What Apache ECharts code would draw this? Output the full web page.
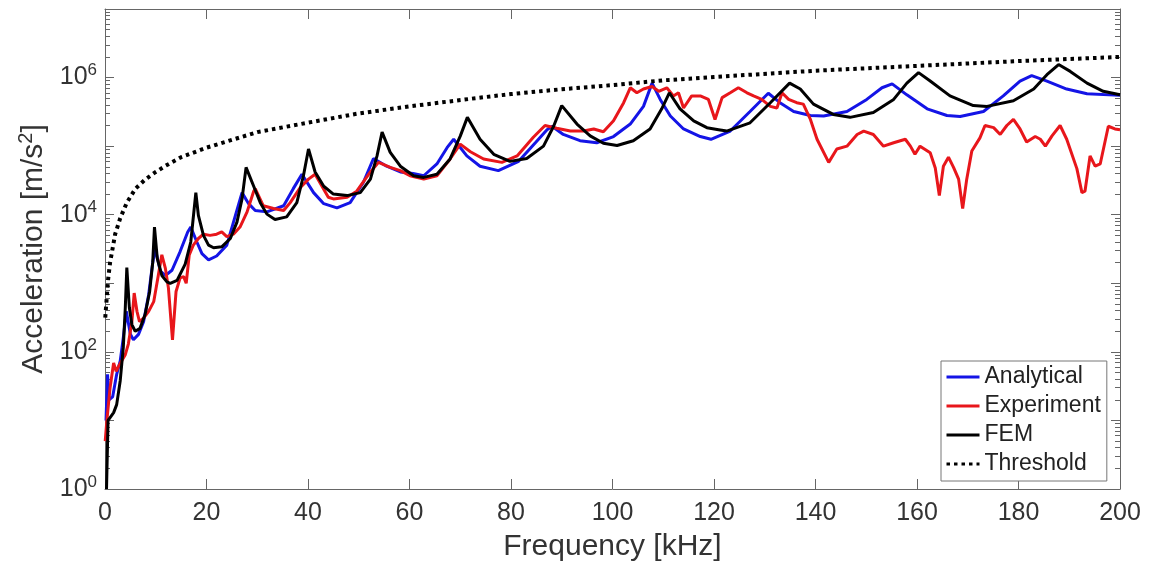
<!DOCTYPE html>
<html>
<head>
<meta charset="utf-8">
<title>Acceleration vs Frequency</title>
<script src="https://cdn.jsdelivr.net/npm/echarts@6/dist/echarts.min.js"></script>
<style>
  html, body { margin: 0; padding: 0; background: #fff; }
  #main { width: 1150px; height: 567px; }
</style>
</head>
<body>
<div id="main"></div>
<script>
// [frequency kHz, acceleration m/s^2]
const analytical = [
  [0.2, 10], [0.5, 47], [0.8, 20], [1.5, 22], [2.3, 47], [3.0, 74], [3.6, 160], [4.2, 390],
  [5.0, 180], [5.6, 150], [6.6, 180], [7.6, 275], [8.6, 680], [9.4, 2000], [9.9, 3200],
  [10.9, 1500], [11.9, 1300], [13.2, 1550], [14.8, 2900], [16.3, 5600], [16.9, 6600],
  [18.1, 4000], [19.1, 2700], [20.4, 2200], [22.0, 2500], [24.0, 3600], [25.7, 9800], [27.0, 21000],
  [28.3, 14500], [29.6, 11500], [31.9, 11000], [35.2, 13500], [37.1, 24000], [38.8, 39000],
  [41.1, 21000], [43.1, 14500], [45.7, 12600], [48.3, 15000], [50.9, 29500], [52.9, 66000],
  [55.5, 51000], [58.2, 42000], [60.7, 40000], [62.8, 37000], [65.4, 55000], [67.4, 95000], [68.7, 126000],
  [71.3, 72000], [73.9, 51000], [77.5, 44000], [81.5, 60000], [84.8, 112000], [87.1, 174000], [88.1, 195000],
  [90.3, 148000], [93.6, 120000], [96.9, 112000], [100.2, 138000], [103.5, 210000], [106.1, 380000], [107.8, 830000],
  [109.4, 480000], [111.4, 275000], [114.0, 178000], [117.3, 138000], [119.4, 126000], [123.2, 166000],
  [127.1, 320000], [130.7, 590000], [133.0, 430000], [135.7, 320000], [139.0, 280000], [141.6, 275000],
  [146.2, 320000], [150.1, 480000], [153.1, 710000], [155.1, 810000], [158.0, 560000], [162.0, 350000],
  [165.9, 280000], [168.5, 270000], [173.1, 320000], [177.0, 540000], [180.3, 890000], [182.6, 1070000],
  [185.6, 890000], [189.5, 680000], [193.5, 580000], [200, 550000]
];

const experiment = [
  [0.04, 5], [0.37, 10], [1.0, 30], [1.7, 69], [2.2, 52], [2.7, 62], [3.3, 74], [4.0, 91], [4.6, 130],
  [5.3, 275], [5.75, 720], [6.3, 390], [6.8, 275], [7.6, 310], [8.6, 390], [9.6, 540], [10.5, 1300],
  [11.2, 2600], [11.9, 1650], [12.5, 850], [13.3, 150], [14.0, 760], [14.8, 1200], [15.5, 1250],
  [16.0, 1000], [16.6, 2600], [17.4, 3600], [18.4, 4500], [19.4, 5200], [20.7, 5000], [22.0, 5200],
  [23.0, 5600], [24.0, 4800], [25.3, 5200], [26.6, 6600], [28.0, 11000], [29.3, 22000], [29.6, 24000],
  [31.2, 13500], [33.2, 12300], [35.2, 11500], [36.5, 15000], [38.5, 25000], [40.1, 33000], [41.4, 39000],
  [44.0, 18000], [45.0, 17000], [47.7, 18000], [49.6, 22000], [52.3, 42000], [53.9, 58000], [56.2, 49000],
  [58.2, 44000], [60.1, 37000], [62.8, 33000], [65.4, 37000], [68.0, 65000], [70.0, 107000], [72.0, 83000],
  [74.6, 65000], [78.2, 58000], [81.2, 72000], [84.4, 135000], [86.7, 200000], [89.0, 182000], [91.7, 166000],
  [94.3, 166000], [96.3, 178000], [98.2, 162000], [100.2, 234000], [102.2, 430000], [103.5, 710000],
  [104.8, 600000], [106.1, 680000], [107.8, 740000], [109.1, 630000], [110.7, 710000], [112.0, 540000],
  [113.0, 600000], [114.0, 360000], [115.6, 540000], [117.3, 540000], [118.9, 480000], [120.2, 245000],
  [121.6, 510000], [123.2, 600000], [124.8, 710000], [126.5, 600000], [127.8, 540000], [129.4, 480000],
  [131.1, 380000], [132.4, 360000], [133.4, 600000], [134.7, 480000], [136.3, 430000], [137.6, 410000],
  [139.0, 245000], [140.3, 126000], [142.6, 58000], [144.2, 91000], [146.2, 100000], [148.2, 148000],
  [149.5, 166000], [151.4, 148000], [153.4, 100000], [155.4, 112000], [157.7, 126000], [158.7, 100000],
  [159.6, 76000], [160.6, 100000], [162.6, 80000], [163.6, 48000], [164.4, 19000], [165.2, 51000],
  [166.2, 69000], [167.2, 49000], [168.2, 33000], [169.0, 12300], [169.8, 33000], [170.8, 85000],
  [172.4, 132000], [173.4, 200000], [175.1, 186000], [176.4, 148000], [177.7, 200000], [179.0, 245000],
  [180.3, 178000], [181.6, 115000], [183.3, 138000], [184.3, 126000], [185.3, 100000], [186.6, 141000],
  [188.2, 200000], [189.5, 126000], [191.5, 47000], [192.5, 21000], [193.1, 22000], [194.1, 72000],
  [195.1, 51000], [196.1, 55000], [197.7, 195000], [199.0, 178000], [200, 174000]
];

const fem = [
  [0.3, 1], [0.6, 10], [1.0, 11], [1.7, 13], [2.3, 17], [3.0, 38], [3.6, 115], [4.0, 440], [4.3, 1700],
  [4.8, 440], [5.3, 250], [5.95, 200], [6.9, 220], [7.9, 350], [8.8, 760], [9.4, 2000], [9.75, 6600],
  [10.3, 2300], [11.2, 1300], [12.2, 1050], [12.85, 1000], [14.2, 1100], [15.8, 1900], [16.9, 4000], [17.9, 21000],
  [18.4, 9800], [19.4, 5000], [20.4, 3600], [21.4, 3300], [23.0, 3400], [24.7, 4500], [26.0, 7800], [27.0, 17000], [27.8, 49000],
  [29.3, 26000], [30.6, 15000], [31.9, 10200], [33.5, 8500], [35.8, 9300], [37.8, 15000], [39.1, 37000], [40.1, 91000],
  [41.4, 42000], [43.1, 26000], [45.0, 20000], [47.7, 19000], [50.3, 21000], [52.3, 33000], [53.6, 72000], [54.6, 160000],
  [56.2, 81000], [58.2, 51000], [60.8, 37000], [62.8, 35000], [65.4, 39000], [68.0, 65000], [70.0, 140000], [71.4, 263000],
  [73.9, 126000], [76.6, 76000], [79.8, 60000], [83.1, 66000], [86.4, 100000], [88.4, 195000], [90.0, 390000],
  [93.0, 210000], [95.6, 141000], [98.2, 110000], [100.9, 102000], [104.1, 120000], [107.4, 178000], [109.7, 350000], [111.2, 600000],
  [113.3, 350000], [116.0, 234000], [118.6, 186000], [120.9, 174000], [122.5, 166000], [127.1, 219000], [131.1, 430000], [134.9, 830000],
  [137.0, 680000], [139.6, 410000], [143.5, 290000], [146.8, 263000], [151.4, 310000], [155.4, 480000], [158.0, 830000], [160.3, 1180000],
  [162.6, 890000], [166.5, 540000], [171.1, 390000], [173.8, 380000], [179.0, 460000], [183.0, 680000], [185.6, 1100000], [187.9, 1550000],
  [190.2, 1230000], [193.5, 830000], [196.7, 630000], [200, 560000]
];

const threshold = [
  [0.05, 316], [0.3, 560], [0.6, 1120], [1, 2000], [2, 5200], [3, 8900], [4.3, 15000], [6, 24000],
  [8, 33000], [10, 42000], [12, 52000], [15, 69000], [20, 95000], [30, 160000], [40, 220000],
  [50, 300000], [60, 380000], [72, 490000], [80, 575000], [90, 676000], [100, 776000], [110, 912000],
  [120, 1020000], [140, 1260000], [160, 1480000], [180, 1740000], [200, 2000000]
];

const xTicks = [0, 20, 40, 60, 80, 100, 120, 140, 160, 180, 200];
const yMajor = [1, 1e1, 1e2, 1e3, 1e4, 1e5, 1e6, 1e7];
const yLabels = [1, 1e2, 1e4, 1e6];
const yMinor = [];
for (let n = 0; n < 7; n++) {
  for (let k = 2; k <= 9; k++) yMinor.push(k * Math.pow(10, n));
}

const FONT = 'Liberation Sans, Arial, sans-serif';
const axisColor = '#666';
const textColor = '#333';

function logAxis(position, ticks, len, showLine, labels) {
  return {
    type: 'log', logBase: 10, min: 1, max: 1e7, position: position,
    axisLine: { show: showLine, lineStyle: { color: axisColor, width: 1 } },
    axisTick: { show: true, inside: true, length: len, customValues: ticks, lineStyle: { color: axisColor } },
    axisLabel: labels ? {
      customValues: yLabels, margin: 8, fontFamily: FONT,
      formatter: v => '{b|10}{s|' + Math.round(Math.log10(v)) + '}',
      rich: {
        b: { fontSize: 25, color: textColor, fontFamily: FONT },
        s: { fontSize: 17, color: textColor, fontFamily: FONT, padding: [0, 0, 14, 0] }
      }
    } : { show: false },
    splitLine: { show: false },
    minorTick: { show: false }
  };
}

const chart = echarts.init(document.getElementById('main'));

const line = (name, data, color, extra) => Object.assign({
  name: name, type: 'line', data: data, symbol: 'none', showSymbol: false,
  xAxisIndex: 0, yAxisIndex: 0,
  lineStyle: { color: color, width: 3 }, itemStyle: { color: color }
}, extra || {});

chart.setOption({
  animation: false,
  backgroundColor: '#fff',
  textStyle: { fontFamily: FONT },
  grid: { left: 105, right: 30, top: 9, bottom: 75 },
  legend: {
    orient: 'vertical', left: 941, top: 361,
    padding: [4, 6, 5, 4], itemGap: 5, itemWidth: 33, itemHeight: 14,
    borderColor: '#777', borderWidth: 1, backgroundColor: '#fff',
    itemStyle: { opacity: 0, borderWidth: 0 },
    lineStyle: { width: 3 },
    textStyle: { fontSize: 23, color: '#222', fontFamily: FONT, lineHeight: 24 },
    data: ['Analytical', 'Experiment', 'FEM', 'Threshold']
  },
  xAxis: [
    {
      type: 'value', min: 0, max: 200, interval: 20, position: 'bottom',
      name: 'Frequency [kHz]', nameLocation: 'middle', nameGap: 43,
      nameTextStyle: { fontSize: 30, color: textColor, fontFamily: FONT },
      axisLine: { lineStyle: { color: axisColor } },
      axisTick: { inside: true, length: 10, lineStyle: { color: axisColor } },
      axisLabel: { fontSize: 25, color: textColor, margin: 12, fontFamily: FONT,
        customValues: xTicks },
      splitLine: { show: false }
    },
    {
      type: 'value', min: 0, max: 200, interval: 20, position: 'top',
      axisLine: { lineStyle: { color: axisColor } },
      axisTick: { inside: true, length: 10, lineStyle: { color: axisColor } },
      axisLabel: { show: false },
      splitLine: { show: false }
    }
  ],
  yAxis: [
    Object.assign(logAxis('left', yMajor, 9, true, true), {
      name: '{a|Acceleration [m/s}{s|2}{a|]}', nameLocation: 'middle', nameGap: 48, nameRotate: 90,
      nameTextStyle: {
        rich: {
          a: { fontSize: 30, color: textColor, fontFamily: FONT },
          s: { fontSize: 20, color: textColor, fontFamily: FONT, padding: [0, 0, 15, 0] }
        }
      }
    }),
    logAxis('left', yMinor, 5, false, false),
    logAxis('right', yMajor, 9, true, false),
    logAxis('right', yMinor, 5, false, false)
  ],
  series: [
    line('Analytical', analytical, '#1414e6'),
    line('Experiment', experiment, '#e8161b'),
    line('FEM', fem, '#000000'),
    line('Threshold', threshold, '#000000', {
      lineStyle: { color: '#000', width: 4, type: [3.5, 4] }
    })
  ]
});
</script>
</body>
</html>
